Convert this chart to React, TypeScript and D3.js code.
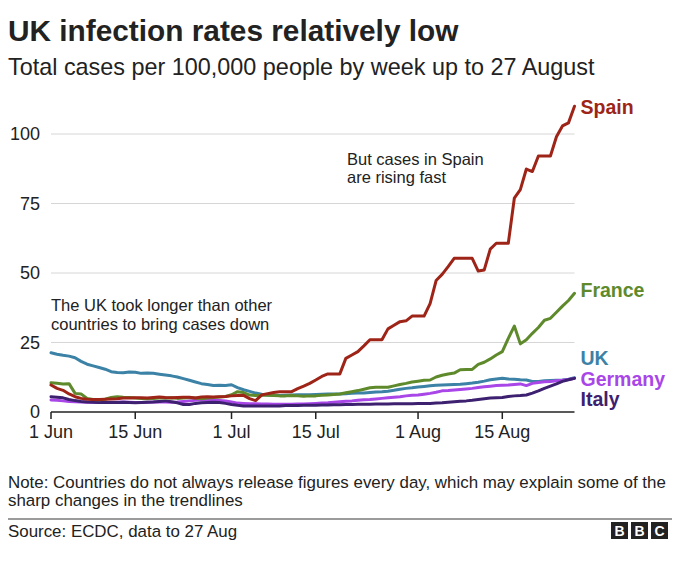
import React from "react";
import * as d3 from "d3";

const W = 680;
const H = 576;

const startDate = new Date(2020, 5, 1);
const endDate = new Date(2020, 7, 27);
const dates: Date[] = d3.timeDay.range(startDate, d3.timeDay.offset(endDate, 1));

const spain = [
  9.7, 8.5, 7.8, 6.5, 5.5, 4.9, 4.6, 4.5, 4.5, 4.6, 4.7, 4.8, 5.0, 5.0, 5.1, 5.1, 5.0, 5.2, 5.4, 5.2,
  5.1, 5.2, 5.3, 5.3, 5.0, 5.4, 5.5, 5.4, 5.5, 5.6, 5.8, 5.9, 6.0, 4.8, 4.1, 6.1, 6.6, 7.0, 7.3, 7.3,
  7.3, 8.4, 9.3, 10.3, 11.5, 12.8, 13.7, 13.7, 13.7, 19.3, 20.5, 21.7, 23.8, 26.0, 26.0, 26.0, 29.9, 31.2, 32.5, 32.8,
  34.5, 34.5, 34.5, 39.0, 47.3, 49.5, 52.3, 55.3, 55.3, 55.3, 55.3, 50.7, 51.1, 58.6, 60.7, 60.7, 60.7, 76.9, 80.0, 87.4,
  86.5, 92.1, 92.1, 92.1, 99.0, 102.9, 104.0, 110.0,
];

const uk = [
  21.3, 20.8, 20.4, 20.1, 19.5, 18.2, 17.2, 16.6, 16.0, 15.4, 14.5, 14.2, 14.1, 14.4, 14.3, 13.9, 14.0, 13.9, 13.6, 13.3,
  13.0, 12.6, 12.0, 11.4, 10.8, 10.2, 9.9, 9.5, 9.6, 9.5, 9.8, 8.8, 8.0, 7.4, 6.8, 6.4, 6.1, 6.0, 5.9, 6.0,
  6.1, 6.2, 6.2, 6.2, 6.3, 6.4, 6.5, 6.5, 6.5, 6.6, 6.7, 6.8, 6.8, 7.0, 7.2, 7.3, 7.5, 7.8, 8.2, 8.5,
  8.7, 9.0, 9.2, 9.4, 9.6, 9.7, 9.8, 9.9, 10.0, 10.2, 10.4, 10.7, 11.1, 11.6, 11.9, 12.1, 11.9, 11.8, 11.6, 11.5,
  11.0, 11.0, 11.2, 11.3, 11.4, 11.5, 11.8, 12.3,
];

const france = [
  10.5, 10.3, 10.1, 10.2, 6.7, 6.5, 4.9, 4.5, 4.4, 4.6, 5.2, 5.5, 5.3, 5.2, 5.0, 4.9, 4.8, 4.9, 5.0, 5.0,
  5.1, 4.9, 5.0, 5.2, 5.0, 4.8, 5.0, 5.2, 5.4, 5.6, 6.2, 7.3, 7.0, 6.1, 5.9, 6.0, 6.0, 5.9, 5.8, 5.8,
  5.9, 5.8, 5.7, 5.8, 5.8, 6.0, 6.1, 6.3, 6.5, 6.9, 7.3, 7.7, 8.2, 8.7, 8.9, 8.9, 8.9, 9.4, 9.9, 10.3,
  10.8, 11.1, 11.4, 11.5, 12.6, 13.2, 13.7, 14.0, 15.2, 15.3, 15.3, 17.1, 17.9, 19.1, 20.5, 21.7, 26.5, 30.9, 24.5, 26.0,
  28.3, 30.4, 33.0, 33.7, 35.9, 38.1, 40.1, 42.7,
];

const germany = [
  4.3, 4.2, 4.0, 3.8, 3.7, 3.6, 3.5, 3.5, 3.4, 3.4, 3.5, 3.5, 3.6, 3.5, 3.4, 3.4, 3.5, 3.6, 3.7, 3.6,
  3.5, 3.6, 3.8, 4.0, 4.2, 4.4, 4.3, 4.2, 4.1, 4.0, 3.6, 3.2, 3.1, 3.0, 3.0, 2.9, 2.9, 2.8, 2.8, 2.8,
  2.8, 2.9, 2.9, 3.0, 3.1, 3.2, 3.3, 3.5, 3.7, 3.9, 4.0, 4.2, 4.4, 4.5, 4.7, 4.9, 5.1, 5.3, 5.5, 5.8,
  6.0, 6.1, 6.4, 6.7, 7.1, 7.6, 7.7, 7.9, 8.1, 8.3, 8.5, 8.8, 9.1, 9.3, 9.5, 9.6, 9.7, 9.9, 10.1, 9.5,
  10.3, 10.6, 10.9, 11.0, 11.2, 11.4, 11.7, 12.1,
];

const italy = [
  5.5, 5.3, 5.1, 4.5, 4.1, 3.8, 3.6, 3.5, 3.4, 3.4, 3.4, 3.4, 3.5, 3.4, 3.3, 3.4, 3.5, 3.6, 3.8, 4.0,
  3.7, 3.3, 2.7, 2.7, 3.1, 3.3, 3.4, 3.5, 3.4, 3.1, 2.7, 2.4, 2.2, 2.2, 2.2, 2.2, 2.2, 2.2, 2.2, 2.3,
  2.3, 2.3, 2.4, 2.4, 2.4, 2.5, 2.5, 2.6, 2.6, 2.7, 2.7, 2.8, 2.8, 2.8, 2.9, 2.9, 2.9, 3.0, 3.0, 3.0,
  3.0, 3.1, 3.1, 3.1, 3.2, 3.3, 3.5, 3.7, 3.9, 4.0, 4.2, 4.5, 4.8, 5.0, 5.1, 5.2, 5.6, 5.8, 5.9, 6.1,
  6.8, 7.6, 8.5, 9.3, 10.1, 11.0, 11.6, 12.1,
];

const seriesNames = ["UK", "Germany", "Italy", "France", "Spain"];
const seriesValues = [uk, germany, italy, france, spain];
const seriesColors = ["#3b82a6", "#a946e8", "#3d2170", "#5e8a2c", "#9e2418"];
// value at which each end label is centred
const labelValues = [19.2, 11.8, 4.7, 44.0, 109.7];

const yTicks = [0, 25, 50, 75, 100];
const xTicks = [
  new Date(2020, 5, 1),
  new Date(2020, 5, 15),
  new Date(2020, 6, 1),
  new Date(2020, 6, 15),
  new Date(2020, 7, 1),
  new Date(2020, 7, 15),
];

const title = "UK infection rates relatively low";
const subtitle = "Total cases per 100,000 people by week up to 27 August";
const noteLines = [
  "Note: Countries do not always release figures every day, which may explain some of the",
  "sharp changes in the trendlines",
];
const source = "Source: ECDC, data to 27 Aug";
const annoSpain = ["But cases in Spain", "are rising fast"];
const annoUK = ["The UK took longer than other", "countries to bring cases down"];

const FONT = "'Liberation Sans', Arial, Helvetica, sans-serif";

export default function App() {
  const x = d3.scaleTime().domain([startDate, endDate]).range([51, 574.5]);
  const y = d3.scaleLinear().domain([0, 100]).range([412, 134]);
  const fmt = d3.timeFormat("%-d %b");

  const line = d3
    .line<number>()
    .x((_, i) => x(dates[i]))
    .y((v) => y(v));

  return (
    <svg
      width={W}
      height={H}
      style={{ position: "absolute", left: 0, top: 0, background: "#fff" }}
      fontFamily={FONT}
    >
      <rect x={0} y={0} width={W} height={H} fill="#fff" />
      <text x={8} y={41} fontSize={29.8} fontWeight="bold" fill="#222">
        {title}
      </text>
      <text x={8} y={75} fontSize={23.4} fill="#222">
        {subtitle}
      </text>

      {/* gridlines */}
      {yTicks.map((t) => (
        <g key={t}>
          {t !== 0 && (
            <line x1={x.range()[0]} x2={x.range()[1]} y1={y(t)} y2={y(t)} stroke="#d6d6d6" strokeWidth={1} />
          )}
          <text x={40} y={y(t)} dy="0.35em" textAnchor="end" fontSize={18} fill="#222">
            {t}
          </text>
        </g>
      ))}

      {/* annotations */}
      {annoSpain.map((s, i) => (
        <text key={s} x={347} y={165 + i * 18} fontSize={16.5} fill="#222">
          {s}
        </text>
      ))}
      {annoUK.map((s, i) => (
        <text key={s} x={51} y={311 + i * 18.5} fontSize={16.5} fill="#222">
          {s}
        </text>
      ))}

      {/* lines */}
      {seriesValues.map((vals, i) => (
        <path
          key={seriesNames[i]}
          d={line(vals) || ""}
          fill="none"
          stroke={seriesColors[i]}
          strokeWidth={3}
          strokeLinejoin="round"
          strokeLinecap="round"
        />
      ))}

      {/* x axis */}
      <line x1={x.range()[0]} x2={x.range()[1]} y1={y(0)} y2={y(0)} stroke="#222" strokeWidth={1.5} />
      {xTicks.map((t) => (
        <g key={t.getTime()}>
          <line x1={x(t)} x2={x(t)} y1={y(0)} y2={y(0) + 7} stroke="#222" strokeWidth={1.5} />
          <text x={x(t)} y={438} textAnchor="middle" fontSize={18} fill="#222">
            {fmt(t)}
          </text>
        </g>
      ))}

      {/* end labels */}
      {seriesNames.map((n, i) => (
        <text
          key={n}
          x={x(endDate) + 6}
          y={y(labelValues[i])}
          dy="0.35em"
          fontSize={19.5}
          fontWeight="bold"
          fill={seriesColors[i]}
        >
          {n}
        </text>
      ))}

      {/* footer */}
      {noteLines.map((s, i) => (
        <text key={s} x={8} y={487.5 + i * 18} fontSize={16.9} fill="#222">
          {s}
        </text>
      ))}
      <line x1={8} x2={672} y1={519} y2={519} stroke="#7a7a7a" strokeWidth={1.5} />
      <text x={8} y={537} fontSize={16.9} fill="#222">
        {source}
      </text>
      {["B", "B", "C"].map((c, i) => (
        <g key={i}>
          <rect x={611 + i * 20} y={522} width={17} height={17} fill="#222" />
          <text x={611 + i * 20 + 8.5} y={536} textAnchor="middle" fontSize={14} fontWeight="bold" fill="#fff">
            {c}
          </text>
        </g>
      ))}
    </svg>
  );
}
